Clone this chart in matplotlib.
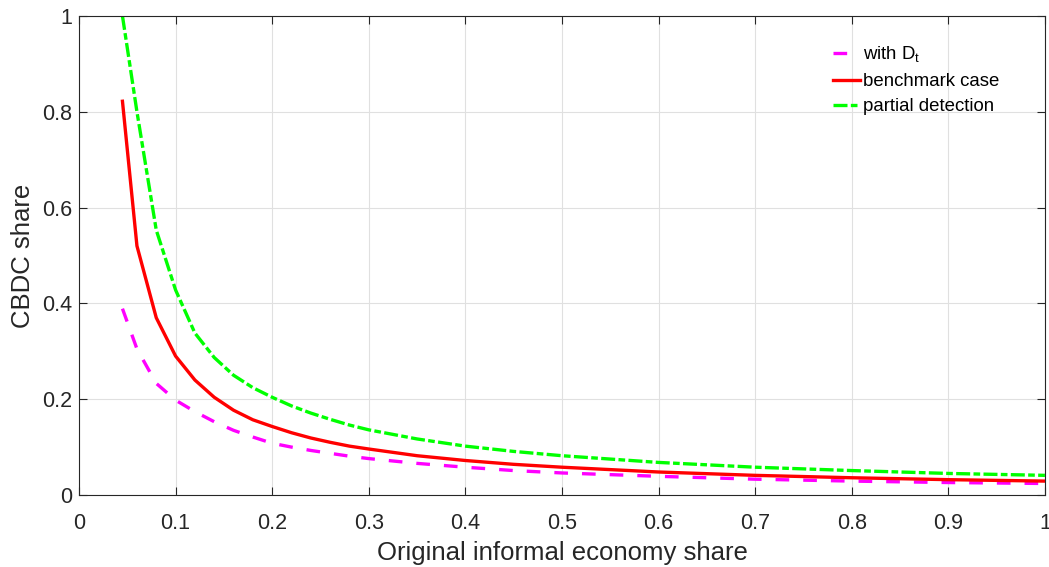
import numpy as np
import matplotlib
matplotlib.use('Agg')
import matplotlib.pyplot as plt

plt.rcParams['font.family'] = ['Liberation Sans', 'DejaVu Sans']

# x grid (original informal economy share)
informalShare = [0.045, 0.06, 0.08, 0.10, 0.12, 0.14, 0.16, 0.18, 0.20, 0.22, 0.24, 0.26,
                 0.28, 0.30, 0.35, 0.40, 0.45, 0.50, 0.60, 0.70, 0.80, 0.90, 1.00]

# CBDC share curves
withDt = [0.389, 0.305, 0.233, 0.198, 0.174, 0.153, 0.135, 0.121, 0.108, 0.100, 0.093, 0.087,
          0.081, 0.076, 0.066, 0.058, 0.051, 0.046, 0.039, 0.033, 0.029, 0.026, 0.024]
benchmark = [0.822, 0.520, 0.370, 0.290, 0.240, 0.204, 0.177, 0.157, 0.143, 0.130, 0.119, 0.110,
             0.102, 0.096, 0.082, 0.072, 0.064, 0.058, 0.048, 0.041, 0.036, 0.032, 0.029]
partialDetection = [1.000, 0.800, 0.553, 0.428, 0.338, 0.287, 0.250, 0.224, 0.204, 0.186, 0.171, 0.158,
                    0.146, 0.136, 0.117, 0.102, 0.091, 0.082, 0.068, 0.058, 0.051, 0.045, 0.041]

xTicks = [0, 0.1, 0.2, 0.3, 0.4, 0.5, 0.6, 0.7, 0.8, 0.9, 1]
xTickLabels = ['0', '0.1', '0.2', '0.3', '0.4', '0.5', '0.6', '0.7', '0.8', '0.9', '1']
yTicks = [0, 0.2, 0.4, 0.6, 0.8, 1]
yTickLabels = ['0', '0.2', '0.4', '0.6', '0.8', '1']

axisColor = (0.15, 0.15, 0.15)

fig = plt.figure(figsize=(10.49, 5.67), dpi=100)
ax = fig.add_axes([0.0753, 0.127, 0.9208, 0.8448])

lw = 2.4
ax.plot(informalShare, withDt, color='#ff00ff', linestyle=(0, (4.1, 4.2)), linewidth=lw,
        label='with D$_\\mathregular{t}$')
ax.plot(informalShare, benchmark, color='#ff0000', linestyle='-', linewidth=lw, label='benchmark case')
ax.plot(informalShare, partialDetection, color='#00ff00', linestyle=(0, (4.2, 1.0, 2.0, 1.0)), linewidth=lw,
        label='partial detection')

ax.set_xlim(0, 1)
ax.set_ylim(0, 1)
ax.set_xticks(xTicks)
ax.set_xticklabels(xTickLabels)
ax.set_yticks(yTicks)
ax.set_yticklabels(yTickLabels)

ax.grid(True, color=(0.88, 0.88, 0.88), linewidth=0.8)
ax.set_axisbelow(True)
ax.tick_params(direction='in', top=True, right=True, length=6, width=0.8,
               colors=axisColor, labelsize=15.5)
ax.tick_params(axis='x', pad=13)
ax.tick_params(axis='y', pad=5)
for s in ax.spines.values():
    s.set_color(axisColor)
    s.set_linewidth(0.8)

ax.set_xlabel('Original informal economy share', fontsize=18.5, color=axisColor, labelpad=5)
ax.set_ylabel('CBDC share', fontsize=18.5, color=axisColor, labelpad=5)

leg = ax.legend(loc='upper left', bbox_to_anchor=(0.763, 0.975), frameon=False, fontsize=13.4,
                handlelength=1.45, handletextpad=0.2, labelspacing=0.43)
for t in leg.get_texts():
    t.set_color('black')

fig.savefig('out.png', dpi=100)
